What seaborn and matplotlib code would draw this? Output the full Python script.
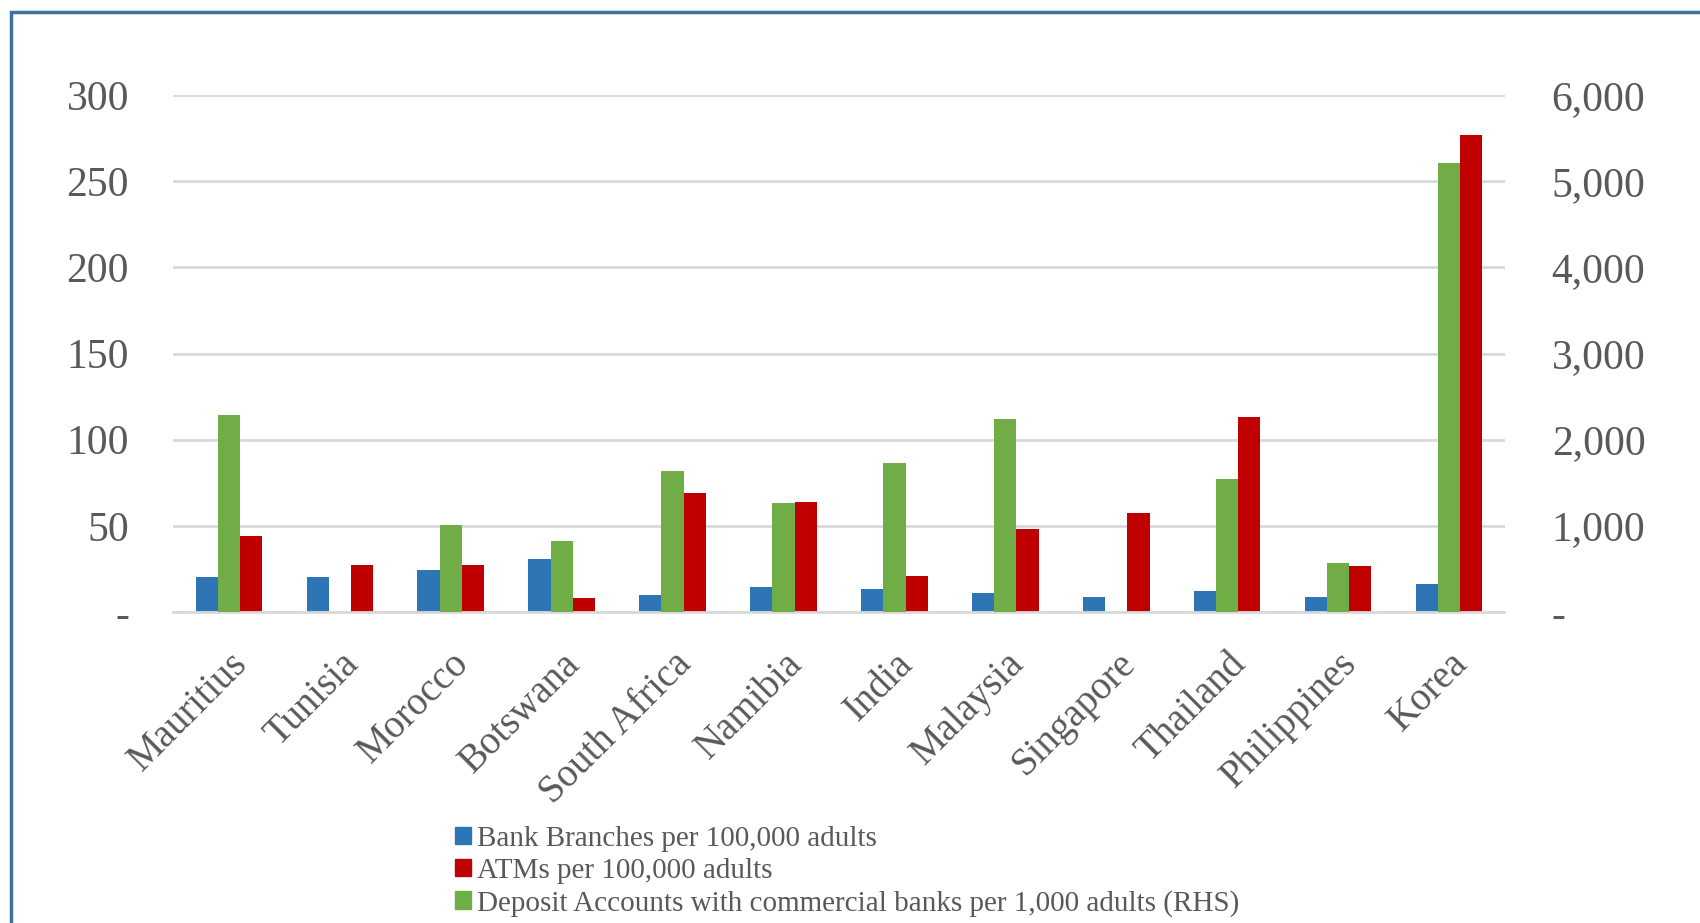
import pandas as pd
import seaborn as sns
import matplotlib.pyplot as plt
import numpy as np
from matplotlib.patches import Patch, Rectangle
from matplotlib.ticker import FuncFormatter

countries = ['Mauritius', 'Tunisia', 'Morocco', 'Botswana', 'South Africa', 'Namibia',
             'India', 'Malaysia', 'Singapore', 'Thailand', 'Philippines', 'Korea']
branches = [20, 20, 24.6, 30.6, 9.7, 14.3, 13.6, 11, 8.5, 12, 8.4, 16.5]
atms = [44, 27, 27, 8, 69, 64.1, 20.9, 47.9, 57.4, 113, 26.7, 276.6]
deposits = [2287, np.nan, 1008, 826, 1640, 1267, 1729, 2236, np.nan, 1547, 566, 5217]

s_branch = 'Bank Branches per 100,000 adults'
s_atm = 'ATMs per 100,000 adults'
s_dep = 'Deposit Accounts with commercial banks per 1,000 adults (RHS)'
hue_order = [s_branch, s_dep, s_atm]
colors = {s_branch: '#2E75B6', s_dep: '#70AD47', s_atm: '#C00000'}

left = pd.DataFrame({'country': countries * 2,
                     'series': [s_branch] * 12 + [s_atm] * 12,
                     'value': branches + atms})
right = pd.DataFrame({'country': countries, 'series': s_dep, 'value': deposits}).dropna()

sns.set_style('white')
plt.rcParams['font.family'] = ['Liberation Serif', 'DejaVu Serif']
grey = '#595959'

fig = plt.figure(figsize=(17, 9.23), dpi=100)
ax = fig.add_axes([0.102, 0.337, 0.783, 0.56])
ax2 = ax.twinx()

sns.barplot(data=left, x='country', y='value', hue='series', hue_order=hue_order,
            order=countries, palette=colors, width=0.6, dodge=True, ax=ax, legend=False,
            linewidth=0, saturation=1)
sns.barplot(data=right, x='country', y='value', hue='series', hue_order=hue_order,
            order=countries, palette=colors, width=0.6, dodge=True, ax=ax2, legend=False,
            linewidth=0, saturation=1)

ax.set_ylim(0, 300)
ax2.set_ylim(0, 6000)
ax.set_yticks(range(0, 301, 50))
ax2.set_yticks(range(0, 6001, 1000))
ax.yaxis.set_major_formatter(FuncFormatter(lambda v, p: '-' if v == 0 else f'{v:,.0f}'))
ax2.yaxis.set_major_formatter(FuncFormatter(lambda v, p: '-' if v == 0 else f'{v:,.0f}'))
ax.grid(axis='y', color='#D9D9D9', linewidth=2)
ax.set_axisbelow(True)
ax.set_xlim(-0.5, 11.5)
for a in (ax, ax2):
    for s in a.spines.values():
        s.set_visible(False)
    a.set_xlabel('')
    a.set_ylabel('')
    a.tick_params(length=0, colors=grey, labelsize=30)
ax.spines['bottom'].set_visible(True)
ax.spines['bottom'].set_color('#D9D9D9')
ax.spines['bottom'].set_linewidth(2)
ax.tick_params(axis='y', pad=32)
ax2.tick_params(axis='y', pad=34)
ax.tick_params(axis='x', pad=24)
ax.set_xticks(range(len(countries)))
ax.set_xticklabels(countries, rotation=45, ha='right', rotation_mode='anchor', fontsize=28)

handles = [Patch(color=colors[s_branch], label=s_branch),
           Patch(color=colors[s_atm], label=s_atm),
           Patch(color=colors[s_dep], label=s_dep)]
fig.legend(handles=handles, loc='center left', bbox_to_anchor=(0.259, 0.056),
           frameon=False, fontsize=21, labelcolor=grey, handlelength=0.55,
           handleheight=0.55, handletextpad=0.2, labelspacing=0.2, borderpad=0)

fig.patches.append(Rectangle((11 / 1700, -0.1), 1.2, 1 - 12.5 / 923 + 0.1, transform=fig.transFigure,
                             fill=False, edgecolor='#41719C', linewidth=2.5))

plt.savefig('out.png', dpi=100)
